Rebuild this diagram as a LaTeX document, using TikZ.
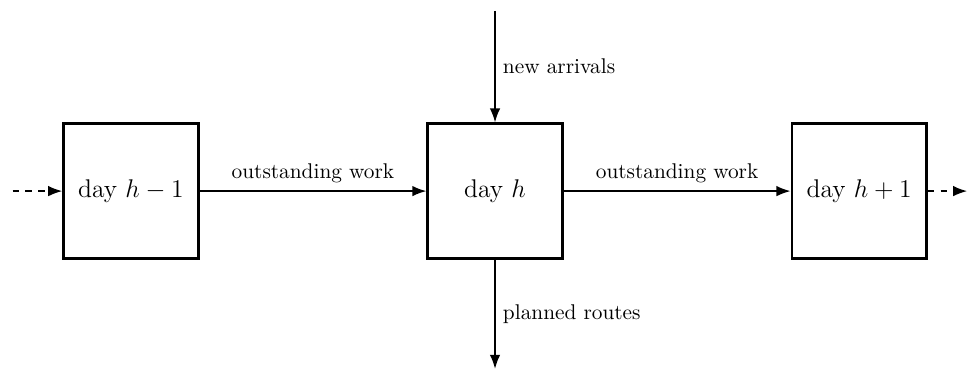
\documentclass[tikz,border=0pt]{standalone}
\usepackage{amsmath}
\usepackage{tikz}
\usetikzlibrary{arrows.meta, positioning}

\begin{document}
\begin{tikzpicture}[node distance=3.74cm,
      daybox/.style={draw, very thick, minimum width=2.22cm,
                     minimum height=2.22cm, font=\large},
      flow/.style={thick, -{Latex}}]
    \useasboundingbox (-8.16,-2.92) rectangle (7.78,3.15);
    \node[daybox] (dh) at (0,0) {day $h$};
    \node[daybox, left=of dh]  (dprev) {day $h-1$};
    \node[daybox, right=of dh] (dnext) {day $h+1$};
    \coordinate[left=0.82cm of dprev]  (pin);
    \coordinate[right=0.65cm of dnext] (pout);
    \coordinate[above=1.84cm of dh]    (arr);
    \coordinate[below=1.8cm of dh]     (rts);
    \draw[flow, dashed] (pin) -- (dprev);
    \draw[flow, dashed] (dnext) -- (pout);
    \draw[flow] (dprev) -- node[above] {outstanding work} (dh);
    \draw[flow] (dh) -- node[above] {outstanding work} (dnext);
    \draw[flow] (arr) -- node[right] {new arrivals} (dh);
    \draw[flow] (dh) -- node[right] {planned routes} (rts);
  \end{tikzpicture}
\end{document}
